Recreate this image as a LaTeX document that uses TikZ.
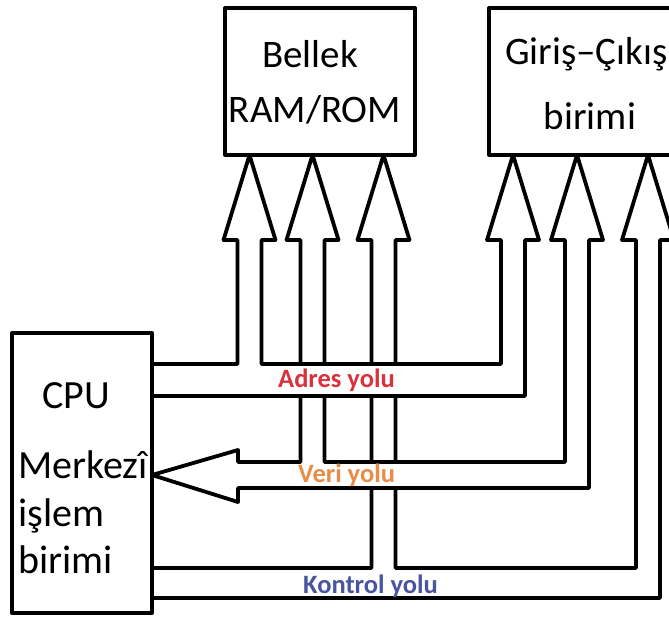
\documentclass[tikz,border=0pt]{standalone}
\usepackage{fontspec}
\setmainfont{Carlito}
\definecolor{adrescol}{HTML}{D8323C}
\definecolor{vericol}{HTML}{EB8C46}
\definecolor{kontrolcol}{HTML}{4A55A2}
\begin{document}
\begin{tikzpicture}[x=1pt,y=-1pt,line join=round,
  bus/.style={draw=black,fill=white,line width=3.8pt},
  boxnode/.style={draw=black,line width=4pt,inner sep=0pt,outer sep=0pt,anchor=north west},
  boxtext/.style={inner sep=0pt,font=\fontsize{39}{47}\selectfont},
  cputext/.style={inner sep=0pt,font=\fontsize{40}{48}\selectfont,anchor=base west},
  buslabel/.style={inner sep=0pt,font=\bfseries\fontsize{26.5}{31}\selectfont,anchor=base west}]
\useasboundingbox (0,0) rectangle (669,618);
\clip (0,0) rectangle (669,618);
% named tips of the bus arrows
\coordinate (t1) at (249.5,155);
\coordinate (t2) at (312.5,155);
\coordinate (t3) at (383.5,155);
\coordinate (t4) at (513,155);
\coordinate (t5) at (577,155);
\coordinate (t6) at (648,155);
\coordinate (tv) at (152,475);
% Kontrol bus
\draw[bus] (152,568) -- (371.5,568) -- (371.5,240) -- (357.5,240) -- (t3) -- (409.5,240) -- (395.5,240)
  -- (395.5,568) -- (636,568) -- (636,240) -- (622,240) -- (t6) -- (674,240) -- (660,240)
  -- (660,598) -- (152,598) -- cycle;
% Veri bus
\draw[bus] (tv) -- (238,450) -- (238,462) -- (300.5,462) -- (300.5,240) -- (286.5,240) -- (t2)
  -- (338.5,240) -- (324.5,240) -- (324.5,462) -- (565,462) -- (565,240) -- (551,240) -- (t5)
  -- (603,240) -- (589,240) -- (589,488) -- (238,488) -- (238,502) -- cycle;
% Adres bus
\draw[bus] (152,364) -- (237.5,364) -- (237.5,240) -- (223.5,240) -- (t1) -- (275.5,240) -- (261.5,240)
  -- (261.5,364) -- (501,364) -- (501,240) -- (487,240) -- (t4) -- (539,240) -- (525,240)
  -- (525,396) -- (152,396) -- cycle;
% boxes
\node[boxnode,minimum width=190pt,minimum height=147pt] (bel) at (225,8) {};
\node[boxnode,minimum width=230pt,minimum height=147pt] (gc) at (489,8) {};
\node[boxnode,fill=white,minimum width=140pt,minimum height=280pt] (cpu) at (12,333) {};
% texts
\node[boxtext,anchor=base] (belt1) at (310,67) {Bellek};
\node[boxtext,anchor=base] (belt2) at (315,122) {RAM/ROM};
\node[boxtext,anchor=base west] (gct1) at (505,65) {Giriş–Çıkış};
\node[boxtext,anchor=base] (gct2) at (590,129) {birimi};
\node[inner sep=0pt,font=\fontsize{40}{48}\selectfont,anchor=base] (cput1) at (76,408) {CPU};
\node[cputext] (cput2) at (18,478) {Merkezî};
\node[cputext] (cput3) at (18,526) {işlem};
\node[cputext] (cput4) at (18,573) {birimi};
\node[buslabel,text=adrescol] (ladres) at (278,387) {Adres yolu};
\node[buslabel,text=vericol] (lveri) at (298,482) {Veri yolu};
\node[buslabel,text=kontrolcol] (lkontrol) at (303,593) {Kontrol yolu};
\end{tikzpicture}
\end{document}
